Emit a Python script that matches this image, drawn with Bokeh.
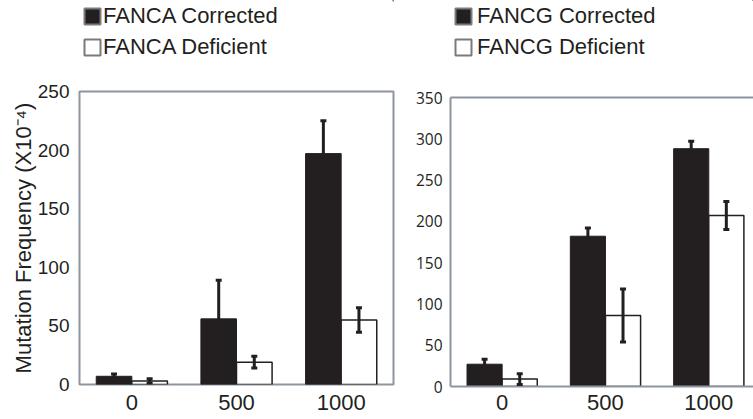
from bokeh.plotting import figure
from bokeh.models import (ColumnDataSource, Range1d, FixedTicker, Whisker, TeeHead,
                          Legend, LegendItem, LinearAxis)
from bokeh.layouts import row, column
from bokeh.embed import file_html
from bokeh.resources import INLINE
import numpy as np

# ---------------- data ----------------
doses = ["0", "500", "1000"]

fanca_corrected = [7, 56, 197]
fanca_corrected_err = [2, 33, 28]
fanca_deficient = [3, 19, 55]
fanca_deficient_err = [2, 5, 10.5]

fancg_corrected = [27, 182, 288]
fancg_corrected_err = [6, 10, 9]
fancg_deficient = [9, 86, 207]
fancg_deficient_err = [6.5, 32, 17]

left_y_ticks = [0, 50, 100, 150, 200, 250]
right_y_ticks = [0, 50, 100, 150, 200, 250, 300, 350]

# ---------------- style ----------------
INK = "#231f20"
FRAME = "#8e969d"
LEG_EDGE = "#7a7a7a"
FONT = "Liberation Sans"
BAR_W = 0.34
OFF = 0.17


def make_legend_fig(names, corr, defi, width, height, left_pad, margin, standoff):
    # legend strip above a panel: the series are attached as zero-size marks
    # outside the visible ranges, so only the legend swatches show
    f = figure(width=width, height=height, output_backend="svg", toolbar_location=None,
               x_range=Range1d(-10, -9), y_range=Range1d(-2, -1),
               x_axis_location=None, y_axis_location=None,
               min_border_left=left_pad, min_border_right=0, min_border_top=0,
               min_border_bottom=0)
    f.outline_line_color = None
    f.grid.visible = False
    f.background_fill_color = "white"
    f.border_fill_color = "white"
    x = np.arange(len(doses))
    lc = f.vbar(x=x - OFF, top=corr, bottom=corr, width=0,
                fill_color=INK, line_color=LEG_EDGE, line_width=2)
    ld = f.vbar(x=x + OFF, top=defi, bottom=defi, width=0,
                fill_color="white", line_color=LEG_EDGE, line_width=2)
    legend = Legend(items=[LegendItem(label=names[0], renderers=[lc]),
                           LegendItem(label=names[1], renderers=[ld])],
                    location="top_left", orientation="vertical",
                    glyph_width=20, glyph_height=20, label_standoff=standoff,
                    spacing=5, padding=0, margin=margin,
                    label_text_font=FONT, label_text_font_size="22px",
                    label_text_color=INK, border_line_color=None,
                    background_fill_alpha=0)
    f.add_layout(legend, "center")
    return f


def make_panel(corr, corr_err, defi, defi_err, y_max, y_ticks, x_max,
               frame_w, frame_h, borders, ytick_font, ytick_size, ytick_standoff,
               xtick_standoff, ylabel=None, full_box=True):
    bl, br, bt, bb = borders
    p = figure(frame_width=frame_w, frame_height=frame_h, output_backend="svg",
               toolbar_location=None,
               x_range=Range1d(-0.5, x_max), y_range=Range1d(0, y_max),
               min_border_left=bl, min_border_right=br, min_border_top=bt,
               min_border_bottom=bb)
    p.background_fill_color = "white"
    p.border_fill_color = "white"
    p.grid.visible = False

    x = np.arange(len(doses))
    src_c = ColumnDataSource(dict(x=x - OFF, top=corr,
                                  upper=np.array(corr) + np.array(corr_err),
                                  lower=np.array(corr) - np.array(corr_err)))
    src_d = ColumnDataSource(dict(x=x + OFF, top=defi,
                                  upper=np.array(defi) + np.array(defi_err),
                                  lower=np.array(defi) - np.array(defi_err)))

    p.vbar(x="x", top="top", bottom=0, width=BAR_W, source=src_c,
           fill_color=INK, line_color=INK, line_width=1)
    p.vbar(x="x", top="top", bottom=0, width=BAR_W, source=src_d,
           fill_color="white", line_color=INK, line_width=1.5)

    for src in (src_c, src_d):
        w = Whisker(source=src, base="x", upper="upper", lower="lower",
                    line_color=INK, line_width=3, level="annotation",
                    upper_head=TeeHead(size=6, line_width=3, line_color=INK),
                    lower_head=TeeHead(size=6, line_width=3, line_color=INK))
        p.add_layout(w)

    # x axis
    xa = p.xaxis[0]
    xa.ticker = FixedTicker(ticks=list(x))
    xa.major_label_overrides = {int(i): d for i, d in zip(x, doses)}
    xa.major_label_text_font = FONT
    xa.major_label_text_font_size = "22px"
    xa.major_label_text_color = INK
    xa.major_label_standoff = xtick_standoff
    xa.major_tick_line_color = None
    xa.minor_tick_line_color = None
    xa.major_tick_out = 0
    xa.major_tick_in = 0
    xa.minor_tick_out = 0

    # y axis
    ya = p.yaxis[0]
    ya.ticker = FixedTicker(ticks=y_ticks)
    ya.major_label_text_font = ytick_font
    ya.major_label_text_font_size = ytick_size
    ya.major_label_text_color = INK
    ya.major_label_standoff = ytick_standoff
    ya.major_tick_line_color = None
    ya.minor_tick_line_color = None
    ya.major_tick_out = 0
    ya.major_tick_in = 0
    ya.minor_tick_out = 0
    if ylabel:
        ya.axis_label = ylabel
        ya.axis_label_text_font = FONT
        ya.axis_label_text_font_size = "22px"
        ya.axis_label_text_font_style = "normal"
        ya.axis_label_text_color = INK
        ya.axis_label_standoff = -1

    if full_box:
        p.outline_line_color = FRAME
        p.outline_line_width = 2
        p.outline_line_alpha = 1
        xa.axis_line_color = None
        ya.axis_line_color = None
    else:
        p.outline_line_color = None
        for ax in (xa, ya):
            ax.axis_line_color = FRAME
            ax.axis_line_width = 2
        top = LinearAxis(ticker=FixedTicker(ticks=[]), axis_line_color=FRAME,
                         axis_line_width=2, major_tick_line_color=None,
                         minor_tick_line_color=None, major_label_text_font_size="0px",
                         major_tick_out=0, major_tick_in=0, minor_tick_out=0,
                         major_label_standoff=0)
        p.add_layout(top, "above")
    return p


leg_left = make_legend_fig(["FANCA Corrected", "FANCA Deficient"],
                           fanca_corrected, fanca_deficient, 395, 70, 70, 3, 1)
leg_right = make_legend_fig(["FANCG Corrected", "FANCG Deficient"],
                            fancg_corrected, fancg_deficient, 358, 70, 39, 3, 4)

left = make_panel(fanca_corrected, fanca_corrected_err, fanca_deficient, fanca_deficient_err,
                  250, left_y_ticks, 2.5, frame_w=314, frame_h=293,
                  borders=(79, 2, 21, 35),
                  ytick_font=FONT, ytick_size="19px", ytick_standoff=10,
                  xtick_standoff=10,
                  ylabel="Mutation Frequency (X10\u207b\u2074)", full_box=True)

right = make_panel(fancg_corrected, fancg_corrected_err, fancg_deficient, fancg_deficient_err,
                   350, right_y_ticks, 2.433, frame_w=303, frame_h=289,
                   borders=(55, 0, 27, 33),
                   ytick_font="Open Sans", ytick_size="15.5px", ytick_standoff=8,
                   xtick_standoff=8, full_box=False)

layout = row(column(leg_left, left), column(leg_right, right))
open("out.html", "w").write(file_html(layout, INLINE))
